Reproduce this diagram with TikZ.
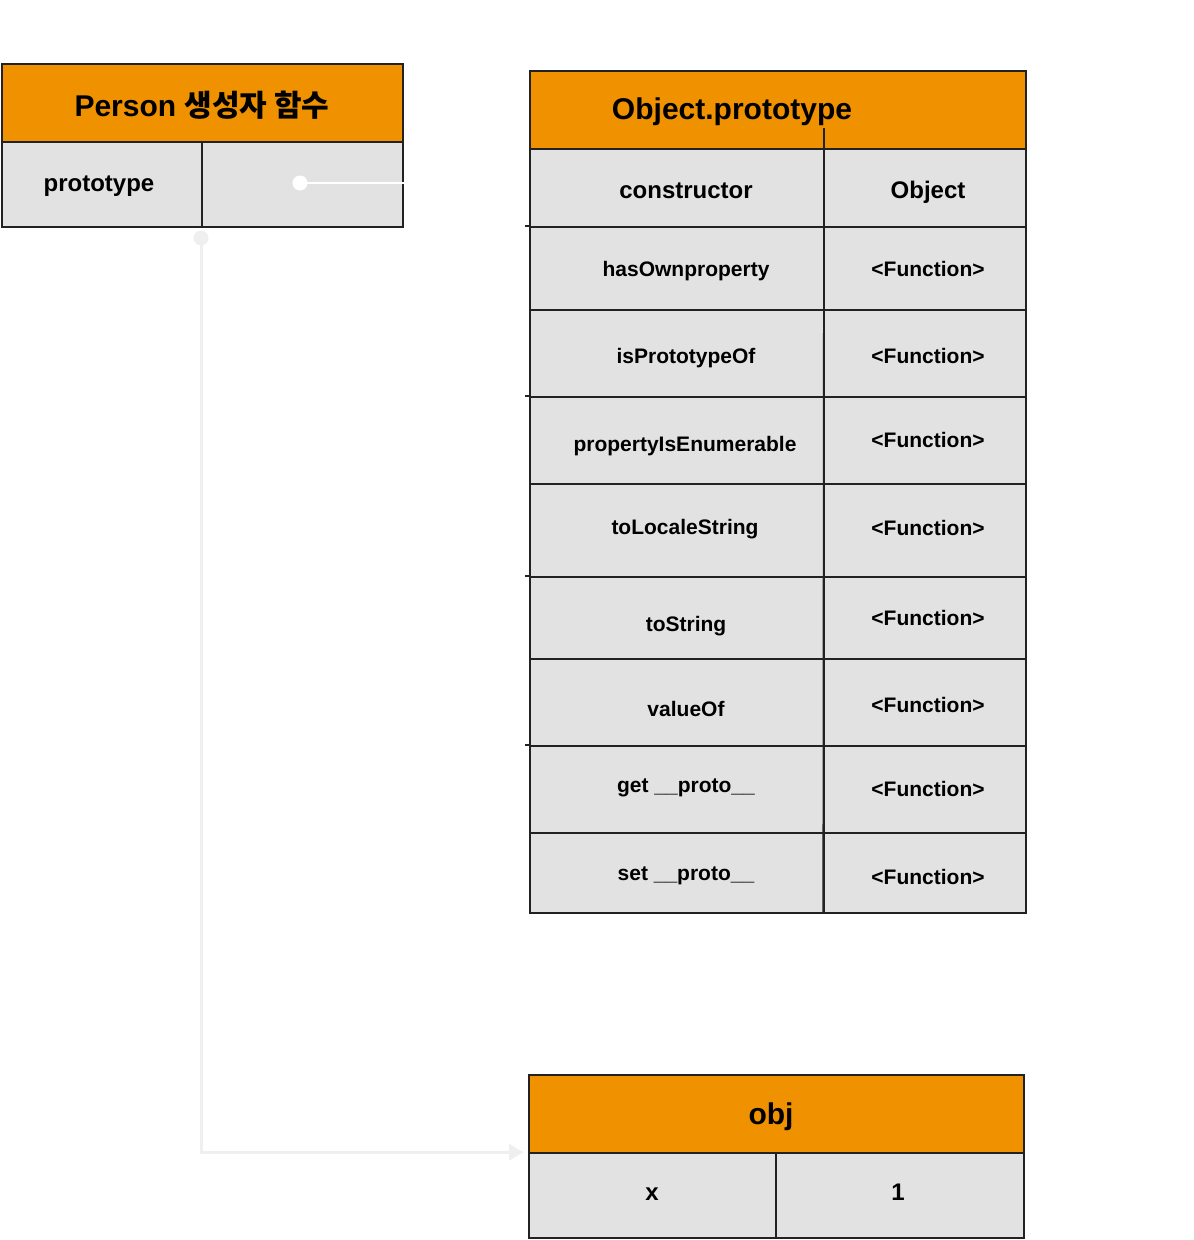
\documentclass[tikz,border=0pt]{standalone}
\usepackage{fontspec}
\setmainfont{Liberation Sans}
\newfontfamily\kr{Noto Sans CJK KR}
\usetikzlibrary{arrows.meta}
\definecolor{orng}{HTML}{F09100}
\definecolor{cellgray}{HTML}{E2E2E2}
\definecolor{bord}{HTML}{222222}
\definecolor{conn}{HTML}{EFEFEF}
\tikzset{
  box/.style={draw=bord, line width=1.6pt, inner sep=0pt},
  hdr/.style={box, fill=orng},
  cell/.style={box, fill=cellgray},
  txt/.style={inner sep=0pt, text depth=0pt},
  ttl/.style={txt, text height=21.5pt, font=\bfseries\fontsize{30}{32}\selectfont},
  big/.style={txt, text height=17.2pt, font=\bfseries\fontsize{24}{26}\selectfont},
  sml/.style={txt, text height=15.1pt, font=\bfseries\fontsize{21}{23}\selectfont},
}
\begin{document}
\begin{tikzpicture}[x=1pt,y=-1pt]
\useasboundingbox (0,0) rectangle (1194,1240);

% Person box
\node[hdr, minimum width=401, minimum height=78] (ph) at (202.5,103) {};
\node[cell, minimum width=200, minimum height=85] (pk) at (102,184.5) {};
\node[cell, minimum width=201, minimum height=85] (pv) at (302.5,184.5) {};
\node[ttl] (pt) at (202,106) {Person {\kr 생성자 함수}};
\node[big] (ptk) at (99,183) {prototype};

% Object.prototype box
\node[hdr, minimum width=496, minimum height=78] (oh) at (778,110) {};
\node[cell, minimum width=294, minimum height=78] (k1) at (677,188) {};
\node[cell, minimum width=202, minimum height=78] (v1) at (925,188) {};
\node[cell, minimum width=294, minimum height=83] (k2) at (677,268.5) {};
\node[cell, minimum width=202, minimum height=83] (v2) at (925,268.5) {};
\node[cell, minimum width=294, minimum height=87] (k3) at (677,353.5) {};
\node[cell, minimum width=202, minimum height=87] (v3) at (925,353.5) {};
\node[cell, minimum width=294, minimum height=87] (k4) at (677,440.5) {};
\node[cell, minimum width=202, minimum height=87] (v4) at (925,440.5) {};
\node[cell, minimum width=294, minimum height=93] (k5) at (677,530.5) {};
\node[cell, minimum width=202, minimum height=93] (v5) at (925,530.5) {};
\node[cell, minimum width=294, minimum height=82] (k6) at (677,618) {};
\node[cell, minimum width=202, minimum height=82] (v6) at (925,618) {};
\node[cell, minimum width=294, minimum height=87] (k7) at (677,702.5) {};
\node[cell, minimum width=202, minimum height=87] (v7) at (925,702.5) {};
\node[cell, minimum width=294, minimum height=87] (k8) at (677,789.5) {};
\node[cell, minimum width=202, minimum height=87] (v8) at (925,789.5) {};
\node[cell, minimum width=294, minimum height=80] (k9) at (677,873) {};
\node[cell, minimum width=202, minimum height=80] (v9) at (925,873) {};
\draw[draw=bord, line width=1.6pt] (824,128) -- (v9.south west);
\foreach \r in {k2,k4,k6,k8} \draw[draw=bord, line width=1.6pt] (\r.north west) -- ++(-4,0);

\node[ttl] (ot) at (732,109) {Object.prototype};
\node[big] (t1) at (686,190) {constructor};
\node[big] (u1) at (928,190) {Object};
\node[sml] (t2) at (686,269) {hasOwnproperty};
\node[sml] (u2) at (928,269) {<Function>};
\node[sml] (t3) at (686,356) {isPrototypeOf};
\node[sml] (u3) at (928,356) {<Function>};
\node[sml] (t4) at (685,444) {propertyIsEnumerable};
\node[sml] (u4) at (928,440) {<Function>};
\node[sml] (t5) at (685,527) {toLocaleString};
\node[sml] (u5) at (928,528) {<Function>};
\node[sml] (t6) at (686,624) {toString};
\node[sml] (u6) at (928,618) {<Function>};
\node[sml] (t7) at (686,709) {valueOf};
\node[sml] (u7) at (928,705) {<Function>};
\node[sml] (t8) at (686,785) {get \_\_proto\_\_};
\node[sml] (u8) at (928,789) {<Function>};
\node[sml] (t9) at (686,873) {set \_\_proto\_\_};
\node[sml] (u9) at (928,877) {<Function>};

% obj box
\node[hdr, minimum width=495, minimum height=78] (bh) at (776.5,1114) {};
\node[cell, minimum width=247, minimum height=85] (bk) at (652.5,1195.5) {};
\node[cell, minimum width=248, minimum height=85] (bv) at (900,1195.5) {};
\node[ttl] (bt) at (771,1114) {obj};
\node[big] (bx) at (652,1192) {x};
\node[big] (b1) at (898,1192) {1};

% connectors
\coordinate (wd) at (300,183);
\coordinate (gd) at (201,238);
\coordinate (tip) at ([xshift=-5pt]bk.north west);
\fill[white] (wd) circle (7.5);
\draw[white, line width=2.5pt] (wd) -- (wd -| pv.east);
\fill[conn] (gd) circle (7.5);
\draw[conn, line width=3pt, -{Triangle[length=14pt,width=16pt]}] (gd) |- (tip);
\end{tikzpicture}
\end{document}
